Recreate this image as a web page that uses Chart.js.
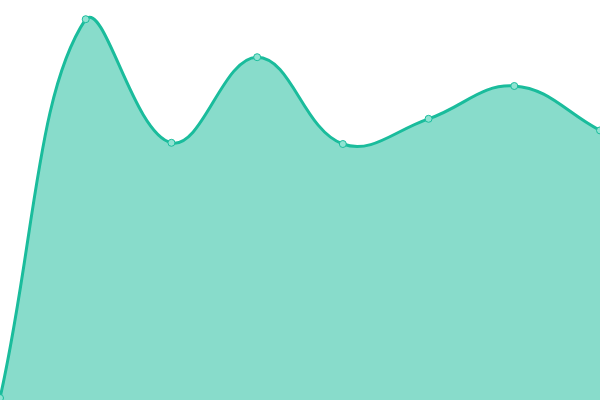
<!DOCTYPE html>
<html>
<head>
<meta charset="utf-8">
<script src="https://cdn.jsdelivr.net/npm/chart.js@4"></script>
<style>
    html, body { margin: 0; padding: 0; background: #fff; }
    .wrap { width: 600px; height: 400px; }
</style>
</head>
<body>
<div class="wrap"><canvas id="area"></canvas></div>
<script>
// data
const labels = ["1", "2", "3", "4", "5", "6", "7", "8"];
const values = [0.5, 95.2, 64.3, 85.7, 64, 70.3, 78.5, 67.4];

const lineColor = "#1abc9c";

let ctx = document.getElementById("area").getContext("2d");
let myChart = new Chart(ctx, {
    type: "line",
    data: {
        labels: labels,
        datasets: [{
            data: values,
            fill: true,
            tension: 0.4,
            borderColor: lineColor,
            borderWidth: 3,
            backgroundColor: "rgba(26, 188, 156, 0.52)",
            pointRadius: 3.5,
            pointBorderWidth: 1,
            pointBorderColor: lineColor,
            pointBackgroundColor: "#8fe3d2"
        }]
    },
    options: {
        responsive: true,
        maintainAspectRatio: false,
        animation: false,
        layout: { padding: 0, autoPadding: false },
        scales: {
            x: { display: false },
            y: { display: false, min: 0, max: 100 }
        },
        plugins: {
            legend: { display: false },
            tooltip: { enabled: false }
        }
    }
});
</script>
</body>
</html>
